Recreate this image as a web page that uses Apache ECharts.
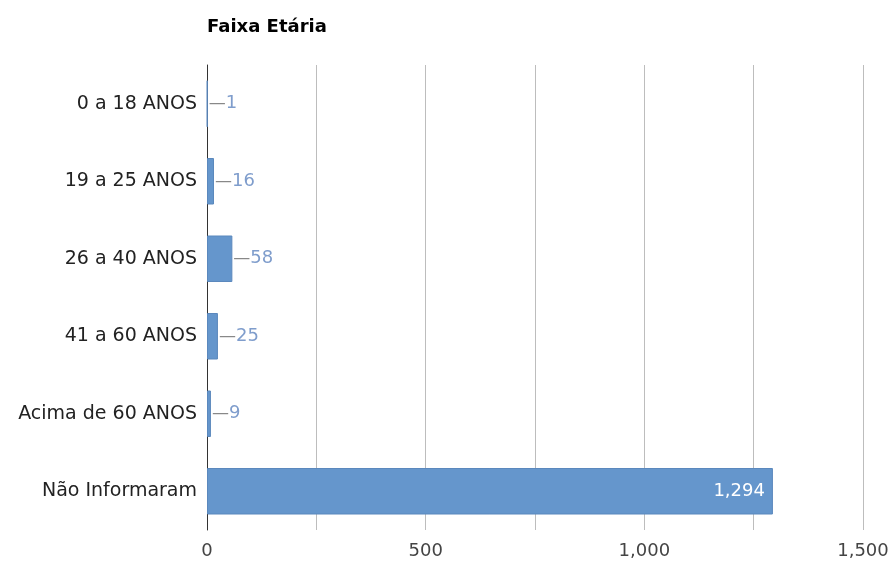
<!DOCTYPE html>
<html>
<head>
<meta charset="utf-8">
<script src="https://cdn.jsdelivr.net/npm/echarts@6/dist/echarts.min.js"></script>
<style>html,body{margin:0;padding:0;background:#fff}#c{width:889px;height:561px}</style>
</head>
<body>
<div id="c"></div>
<script>
var title = 'Faixa Etária';
var categories = ['0 a 18 ANOS', '19 a 25 ANOS', '26 a 40 ANOS', '41 a 60 ANOS', 'Acima de 60 ANOS', 'Não Informaram'];
var values = [1, 16, 58, 25, 9, 1294];
var xTicks = [0, 500, 1000, 1500];

function fmt(v) { return v.toLocaleString('en-US'); }

var chart = echarts.init(document.getElementById('c'), null, {renderer: 'canvas'});
var FONT = '"DejaVu Sans", sans-serif';
chart.setOption({
  animation: false,
  title: {
    text: title, left: 202, top: 13,
    textStyle: {fontFamily: FONT, fontSize: 18, fontWeight: 'bold', color: '#000'}
  },
  grid: {left: 207, right: 26, top: 65, bottom: 31, containLabel: false, outerBoundsMode: 'none'},
  xAxis: {
    type: 'value', min: 0, max: 1500, interval: 250,
    axisLine: {show: false}, axisTick: {show: false},
    splitLine: {lineStyle: {color: '#bdbdbd', width: 1}},
    axisLabel: {
      margin: 12, fontFamily: FONT, fontSize: 18, color: '#444',
      formatter: function (v) { return xTicks.indexOf(v) >= 0 ? fmt(v) : ''; }
    }
  },
  yAxis: {
    type: 'category', data: categories, inverse: true,
    axisLine: {show: true, lineStyle: {color: '#333', width: 1}},
    axisTick: {show: false},
    axisLabel: {margin: 10, fontFamily: FONT, fontSize: 19, color: '#222'}
  },
  series: [{
    type: 'bar',
    data: values.map(function (v, i) {
      var inside = v > 500;
      return {
        value: v,
        label: inside ? {
          position: 'insideRight', distance: 8,
          formatter: function (p) { return fmt(p.value); },
          color: '#fff', fontFamily: FONT, fontSize: 18
        } : {
          position: 'right', distance: 1,
          formatter: function (p) { return '{d|—}{v|' + fmt(p.value) + '}'; },
          rich: {
            d: {color: '#888', fontFamily: FONT, fontSize: 17},
            v: {color: '#7f9dcc', fontFamily: FONT, fontSize: 18}
          }
        }
      };
    }),
    barCategoryGap: '40%',
    itemStyle: {color: '#6596cc', borderColor: '#5b88bd', borderWidth: 1},
    label: {show: true}
  }]
});
</script>
</body>
</html>
